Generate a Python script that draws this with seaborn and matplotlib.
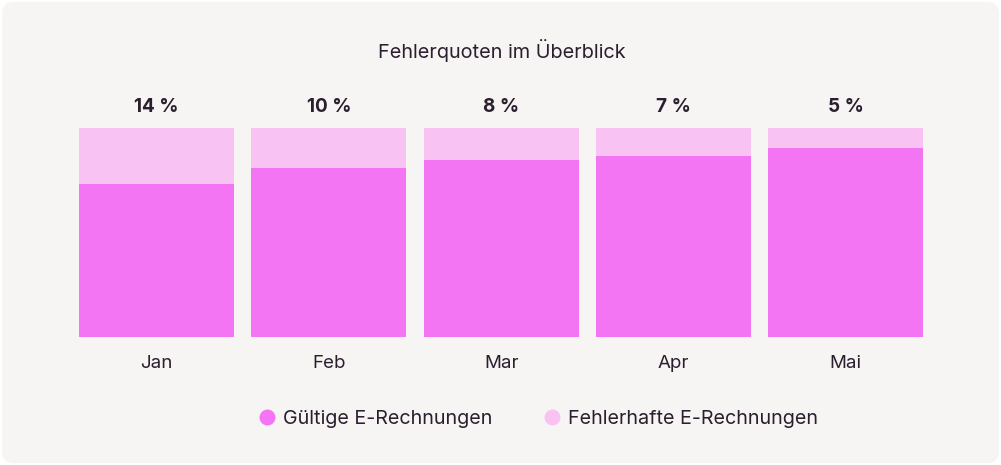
import matplotlib
matplotlib.use("Agg")
import matplotlib.pyplot as plt
from matplotlib.patches import FancyBboxPatch
from matplotlib.lines import Line2D
import seaborn as sns
import pandas as pd

# Daten
monate = ["Jan", "Feb", "Mar", "Apr", "Mai"]
fehler_prozent = [14, 10, 8, 7, 5]
gueltig_prozent = [100 - v for v in fehler_prozent]
gesamt_prozent = [100, 100, 100, 100, 100]

farbe_gueltig = "#f475f3"
farbe_fehler = "#f8c3f3"
textfarbe = "#2b1e2e"
hintergrund = "#f6f5f3"

sns.set_style("white")
plt.rcParams["font.family"] = ["Inter", "DejaVu Sans"]

df = pd.DataFrame({"monat": monate, "gesamt": gesamt_prozent, "gueltig": gueltig_prozent})

fig = plt.figure(figsize=(10.01, 4.65), dpi=100)
fig.patch.set_facecolor("white")
fig.patches.append(FancyBboxPatch((0.002, 0.004), 0.996, 0.992,
                                  boxstyle="round,pad=0,rounding_size=0.012",
                                  transform=fig.transFigure, facecolor=hintergrund,
                                  edgecolor="none", zorder=-10,
                                  mutation_aspect=1001 / 465))

ax = fig.add_axes([0.0704, 0.2753, 0.8606, 0.4505])
ax.set_facecolor("none")

sns.barplot(data=df, x="monat", y="gesamt", color=farbe_fehler, width=0.9,
            saturation=1, edgecolor="none", linewidth=0, ax=ax)
sns.barplot(data=df, x="monat", y="gueltig", color=farbe_gueltig, width=0.9,
            saturation=1, edgecolor="none", linewidth=0, ax=ax)

ax.set_ylim(48.4, 100)
ax.set_xlim(-0.5, len(monate) - 0.5)

ax.bar_label(ax.containers[0], labels=[f"{v} %" for v in fehler_prozent],
             padding=8.5, fontsize=13.6, fontweight="bold", color=textfarbe)

ax.set_xlabel("")
ax.set_ylabel("")
ax.set_yticks([])
ax.tick_params(axis="x", length=0, pad=13, labelsize=13.5, labelcolor=textfarbe)
sns.despine(ax=ax, left=True, bottom=True)

fig.text(0.501, 0.892, "Fehlerquoten im Überblick", ha="center", va="center",
         fontsize=14.3, color=textfarbe)

handles = [
    Line2D([], [], marker="o", linestyle="none", markersize=11.5,
           markerfacecolor=farbe_gueltig, markeredgecolor="none"),
    Line2D([], [], marker="o", linestyle="none", markersize=11.5,
           markerfacecolor=farbe_fehler, markeredgecolor="none"),
]
fig.legend(handles, ["Gültige E-Rechnungen", "Fehlerhafte E-Rechnungen"],
           loc="center", bbox_to_anchor=(0.536, 0.1), ncol=2, frameon=False,
           fontsize=14.2, handletextpad=0.2, columnspacing=2.4,
           handlelength=1.2, labelcolor=textfarbe)

fig.savefig("out.png", dpi=100, facecolor=fig.get_facecolor())
